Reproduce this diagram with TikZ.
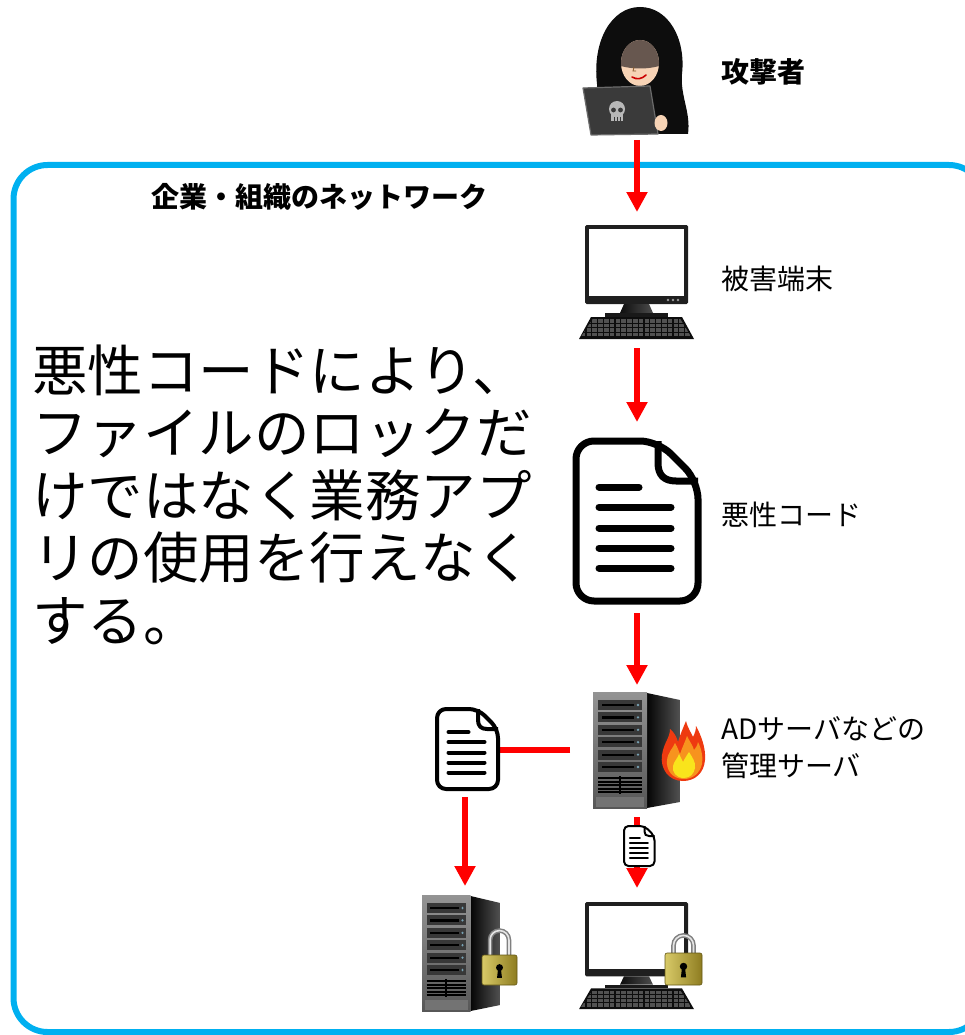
\documentclass[tikz,border=0pt]{standalone}
\usepackage{fontspec}
\newfontfamily\jp{Noto Sans CJK JP}
\usetikzlibrary{arrows.meta}

\definecolor{netblue}{HTML}{00B0F0}
\definecolor{skin}{HTML}{F7D3B5}
\definecolor{faceshade}{HTML}{67574F}
\definecolor{laptop}{HTML}{3A3A3A}
\definecolor{lockL}{HTML}{D8CA68}
\definecolor{lockR}{HTML}{8E7C20}
\definecolor{flameR}{HTML}{EE3A10}
\definecolor{flameO}{HTML}{F7931E}
\definecolor{flameY}{HTML}{F9E41C}

% desktop computer: top-left of the monitor, vertical scale
\newcommand\pcicon[3]{%
\begin{scope}[shift={(#1,#2)}, yscale=#3]
  \fill[black!88, rounded corners=1.5pt] (0,0) rectangle (103,79);
  \fill[white] (4,4) rectangle (99,71);
  \foreach \dx in {83,88,93} \fill[black!40] (\dx,75) circle (1.4);
  \shade[left color=black!95, right color=black!70] (39,79) -- (64,79) -- (68,88) -- (35,88) -- cycle;
  \fill[black!90] (20,88) rectangle (83,92);
  \fill[black!95] (6,92) -- (97,92) -- (109,114) -- (-6,114) -- cycle;
  \begin{scope}
    \clip (8,93.5) -- (95,93.5) -- (106.5,112.5) -- (-4.5,112.5) -- cycle;
    \foreach \ky in {96,100.5,105,109.5}
      \draw[black!68, line width=3.2pt, dash pattern=on 4.5pt off 1.3pt] (-10,\ky) -- (115,\ky);
  \end{scope}
\end{scope}}

% tower server: top-left of the front panel, horizontal scale
\newcommand\servericon[3]{%
\begin{scope}[shift={(#1,#2)}, xscale=#3]
  \shade[left color=black!98, right color=black!68] (54,1) -- (87,8) -- (87,110) -- (54,116) -- cycle;
  \shade[top color=black!42, bottom color=black!66] (0,0) rectangle (54,116);
  \foreach \i in {0,...,5} {
    \pgfmathsetmacro\by{8+12.4*\i}
    \fill[black!78] (5,\by) rectangle (49,\by+10);
    \fill[black] (9,\by+4) rectangle (41,\by+6.2);
    \fill[cyan!35!gray] (45,\by+5) circle (1.3);
  }
  \foreach \vy in {86,89.6,93.2,96.8,100.4}
    \draw[black, line width=2pt] (5,\vy) -- (49,\vy);
  \draw[black, line width=2pt] (27,84) -- (27,102);
  \fill[black!55] (3,105) rectangle (51,115);
\end{scope}}

% padlock: top-left of the body, width, height, shackle length
\newcommand\lockicon[5]{%
\begin{scope}[shift={(#1,#2)}]
  \pgfmathsetmacro\sl{0.23*#3}
  \pgfmathsetmacro\sr{0.77*#3}
  \pgfmathsetmacro\rad{0.27*#3}
  \draw[black!50, line width=4.6pt] (\sl,3) -- (\sl,-#5) arc[start angle=180, end angle=360, radius=\rad] -- (\sr,3);
  \draw[black!10, line width=1.6pt] (\sl,3) -- (\sl,-#5) arc[start angle=180, end angle=360, radius=\rad] -- (\sr,3);
  \shade[left color=lockL, right color=lockR, rounded corners=2pt] (0,0) rectangle (#3,#4);
  \draw[lockR!70!black, line width=0.6pt, rounded corners=2pt] (0,0) rectangle (#3,#4);
  \fill[black] (0.5*#3,0.42*#4) circle (0.1*#3);
  \fill[black] (0.46*#3,0.45*#4) -- (0.54*#3,0.45*#4) -- (0.57*#3,0.76*#4) -- (0.43*#3,0.76*#4) -- cycle;
\end{scope}}

% document sheet with folded corner: top-left, scale, stroke, corner radius
\newcommand\docicon[5]{%
\begin{scope}[shift={(#1,#2)}, scale=#3]
  \filldraw[fill=white, draw=black, line width=#4, rounded corners=#5, line join=round]
    (4,90) -- (4,4) -- (86,4) -- (126,44) -- (126,164) -- (4,164) -- cycle;
  \draw[line width=#4, line join=round]
    (86,4) -- (86,26) .. controls (86,38) and (92,44) .. (104,44) -- (126,44);
  \draw[line width=#4, line cap=round] (27,50) -- (67,50);
  \foreach \ly in {70,91,111,131}
    \draw[line width=#4, line cap=round] (27,\ly) -- (99,\ly);
\end{scope}}

\begin{document}
\begin{tikzpicture}[x=1pt, y=-1pt,
  flow/.style={draw=red, line width=6.5pt, -{Triangle[width=20pt,length=20pt]}},
  link/.style={draw=red, line width=6.5pt},
  tag/.style={font=\jp\fontsize{28}{34}\selectfont, anchor=base west, inner sep=0pt},
  boldtag/.style={tag, font=\jp\bfseries\fontsize{28}{34}\selectfont},
  bigline/.style={font=\jp\fontsize{55.5}{62}\selectfont, anchor=base west, inner sep=0pt}]

\useasboundingbox (0,0) rectangle (965,1035);

% network boundary
\begin{scope}
  \clip (0,0) rectangle (965,1035);
  \draw[netblue, line width=6pt, rounded corners=34pt] (13.5,165) rectangle (983,1032);
\end{scope}

% texts
\node[boldtag] (atk-label) at (721,83) {攻撃者};
\node[boldtag] (net-label) at (151,207) {企業・組織のネットワーク};
\node[tag] (pc-label) at (721,289) {被害端末};
\node[tag] (mal-label) at (721,525) {悪性コード};
\node[tag] (srv-label1) at (721,739) {ADサーバなどの};
\node[tag] (srv-label2) at (721,776) {管理サーバ};

\node[bigline] (note1) at (32,391) {悪性コードにより、};
\node[bigline] (note2) at (32,453) {ファイルのロックだ};
\node[bigline] (note3) at (32,516) {けではなく業務アプ};
\node[bigline] (note4) at (32,578) {リの使用を行えなく};
\node[bigline] (note5) at (32,641) {する。};

% connector end points
\coordinate (atk-out) at (637,140);
\coordinate (pc1-in) at (637,212);
\coordinate (pc1-out) at (637,348);
\coordinate (mal-in) at (637,422);
\coordinate (mal-out) at (637,613);
\coordinate (srv-in) at (637,685);
\coordinate (srv-left) at (570,750);
\coordinate (doc2-right) at (500,750);
\coordinate (doc2-out) at (465,797);
\coordinate (srv2-in) at (465,886);
\coordinate (srv-out) at (637,817);
\coordinate (pc2-in) at (637,888);

\draw[flow] (atk-out) -- (pc1-in);
\draw[flow] (pc1-out) -- (mal-in);
\draw[flow] (mal-out) -- (srv-in);
\draw[link] (srv-left) -- (doc2-right);
\draw[flow] (doc2-out) -- (srv2-in);
\draw[flow] (srv-out) -- (pc2-in);

% attacker in a hood with a laptop
\fill[black!95] (597,84) .. controls (592,40) and (612,7) .. (640,7)
  .. controls (668,7) and (686,38) .. (682,74)
  .. controls (680,96) and (691,112) .. (688,134) -- (600,134) -- cycle;
\fill[skin] (640,63) ellipse [x radius=19, y radius=23];
\begin{scope}
  \clip (640,63) ellipse [x radius=19, y radius=23];
  \fill[faceshade] (615,35) -- (665,35) -- (665,64) .. controls (650,70) and (630,70) .. (615,64) -- cycle;
\end{scope}
\draw[brown!70!black, line width=0.8pt] (634,67) -- (633,71) -- (636,71);
\draw[red!80!black, line width=1.6pt, line cap=round] (632,77) .. controls (637,80) and (642,79) .. (646,75);
\fill[laptop] (583,88) -- (650,86) -- (658,134) -- (591,135) -- cycle;
\draw[black!58, line width=1.2pt, line join=round] (583,88) -- (650,86) -- (658,134) -- (591,135) -- cycle;
\fill[black!28] (617,109) circle (8);
\fill[black!28] (611,112) rectangle (623,121);
\fill[laptop] (613.5,110) circle (2.4);
\fill[laptop] (620.5,110) circle (2.4);
\draw[laptop, line width=0.9pt] (614,117) -- (614,121) (617,117) -- (617,121) (620,117) -- (620,121);
\fill[skin] (661,123) ellipse [x radius=6.5, y radius=8];

% victim computer
\pcicon{585}{225}{1}

% malicious code
\docicon{572}{437}{1}{7pt}{18pt}

% management server on fire
\servericon{593}{692}{1}
\fill[flameR] (683,781) .. controls (668,781) and (660,768) .. (662,755)
  .. controls (664,742) and (670,738) .. (670,729)
  .. controls (676,734) and (677,739) .. (678,742)
  .. controls (680,735) and (683,728) .. (686,721)
  .. controls (688,729) and (692,734) .. (693,737)
  .. controls (695,733) and (696,730) .. (696,726)
  .. controls (701,735) and (706,748) .. (705,760)
  .. controls (704,773) and (695,781) .. (683,781) -- cycle;
\fill[flameO] (684,779) .. controls (672,779) and (666,770) .. (667,760)
  .. controls (668,752) and (673,748) .. (675,743)
  .. controls (678,748) and (679,752) .. (680,754)
  .. controls (682,748) and (685,742) .. (687,736)
  .. controls (690,742) and (693,746) .. (694,750)
  .. controls (697,746) and (698,744) .. (698,742)
  .. controls (702,750) and (703,758) .. (702,764)
  .. controls (700,773) and (693,779) .. (684,779) -- cycle;
\fill[flameY] (684,778) .. controls (676,778) and (672,772) .. (673,766)
  .. controls (674,761) and (678,758) .. (679,754)
  .. controls (681,758) and (682,760) .. (683,762)
  .. controls (685,758) and (687,755) .. (689,752)
  .. controls (692,757) and (696,762) .. (695,768)
  .. controls (694,774) and (690,778) .. (684,778) -- cycle;

% copies of the code
\docicon{435}{707}{0.5}{4pt}{9pt}
\docicon{623}{825}{0.25}{2pt}{4.5pt}

% locked server and locked computer
\servericon{422}{895}{0.9}
\lockicon{482}{955}{35}{30}{15}
\pcicon{585}{902}{0.94}
\lockicon{665}{953}{37}{32}{7.6}

\end{tikzpicture}
\end{document}
